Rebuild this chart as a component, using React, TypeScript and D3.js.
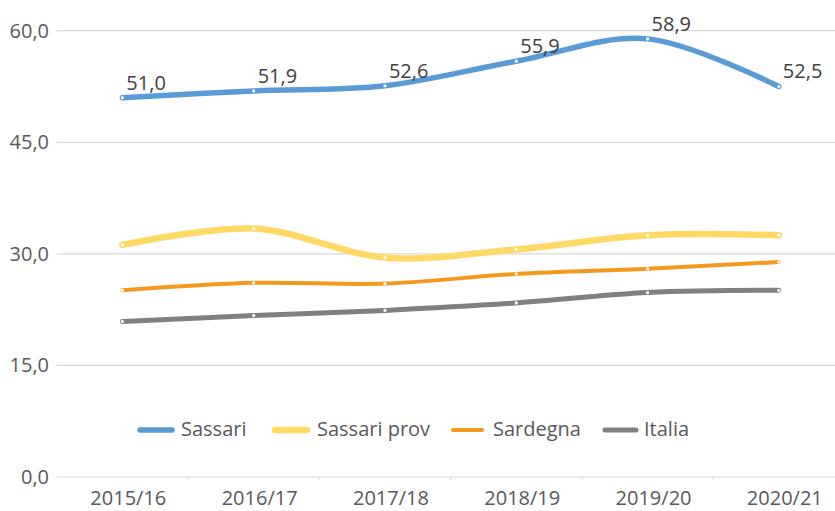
import React from "react";
import * as d3 from "d3";

const categories = ["2015/16", "2016/17", "2017/18", "2018/19", "2019/20", "2020/21"];
const seriesNames = ["Sassari", "Sassari prov", "Sardegna", "Italia"];
const sassari = [51.0, 51.9, 52.6, 55.9, 58.9, 52.5];
const sassariProv = [31.2, 33.4, 29.5, 30.6, 32.5, 32.5];
const sardegna = [25.1, 26.1, 26.0, 27.3, 28.0, 28.9];
const italia = [20.9, 21.7, 22.4, 23.4, 24.8, 25.1];
const yTicks = [0, 15, 30, 45, 60];

const W = 835;
const H = 511;
const FONT = "'Open Sans', 'Noto Sans', sans-serif";

const styles = [
  { color: "#5B9BD5", width: 5.5 },
  { color: "#FFD966", width: 6.5 },
  { color: "#F39A1E", width: 4 },
  { color: "#808080", width: 5 },
];

const legendPos = [
  { x1: 140, x2: 172, tx: 181 },
  { x1: 275, x2: 307, tx: 317 },
  { x1: 453, x2: 482, tx: 493 },
  { x1: 605, x2: 636, tx: 644 },
];

export default function App() {
  const data = [sassari, sassariProv, sardegna, italia];
  const x = d3.scaleBand<string>().domain(categories).range([56.7, 844.5]).padding(0);
  const y = d3.scaleLinear().domain([0, 60]).range([477, 30.7]);
  const cx = (c: string) => (x(c) as number) + x.bandwidth() / 2;
  const line = d3
    .line<number>()
    .x((_, i) => cx(categories[i]))
    .y((v) => y(v))
    .curve(d3.curveCatmullRom.alpha(0));
  const fmt = (v: number) => v.toFixed(1).replace(".", ",");

  return (
    <svg
      width={W}
      height={H}
      style={{ position: "absolute", left: 0, top: 0, background: "#fff" }}
      fontFamily={FONT}
    >
      {yTicks.map((t) => (
        <g key={t}>
          <line x1={56.7} x2={W} y1={y(t)} y2={y(t)} stroke="#d9d9d9" strokeWidth={1.2} />
          <text x={49} y={y(t) + 7} textAnchor="end" fontSize={20} fill="#595959">
            {fmt(t)}
          </text>
        </g>
      ))}
      {categories.map((c, i) => (
        <g key={c}>
          {i > 0 && (
            <line x1={x(c) as number} x2={x(c) as number} y1={477} y2={480} stroke="#d9d9d9" />
          )}
          <text x={cx(c) + 6} y={505} textAnchor="middle" fontSize={20} fill="#595959">
            {c}
          </text>
        </g>
      ))}
      {data.map((d, si) => (
        <g key={si}>
          <path
            d={line(d) as string}
            fill="none"
            stroke={styles[si].color}
            strokeWidth={styles[si].width}
            strokeLinecap="round"
            strokeLinejoin="round"
          />
          {d.map((v, i) => (
            <circle key={i} cx={cx(categories[i])} cy={y(v)} r={1.6} fill="#ffffff" />
          ))}
        </g>
      ))}
      {sassari.map((v, i) => (
        <text
          key={i}
          x={cx(categories[i]) + 4}
          y={y(v) - 8}
          fontSize={20}
          fill="#404040"
        >
          {fmt(v)}
        </text>
      ))}
      {seriesNames.map((n, i) => (
        <g key={n}>
          <line
            x1={legendPos[i].x1}
            x2={legendPos[i].x2}
            y1={430}
            y2={430}
            stroke={styles[i].color}
            strokeWidth={styles[i].width}
            strokeLinecap="round"
          />
          <text x={legendPos[i].tx} y={436} fontSize={20} fill="#595959">
            {n}
          </text>
        </g>
      ))}
    </svg>
  );
}
